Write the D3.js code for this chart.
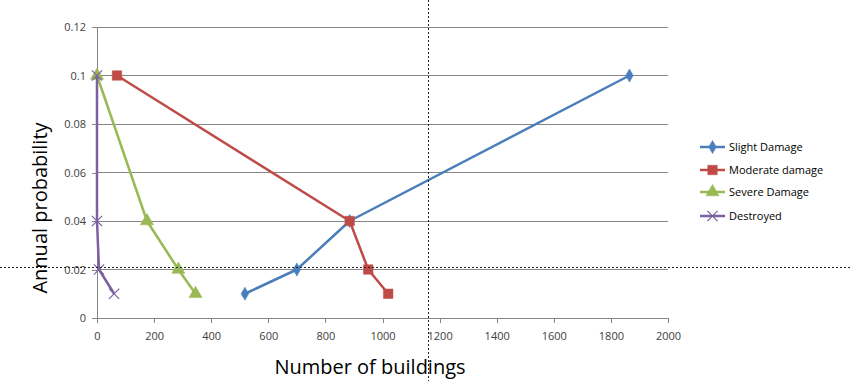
<!DOCTYPE html>
<html><head><meta charset="utf-8">
<script src="https://cdn.jsdelivr.net/npm/d3@7"></script>
<style>body{margin:0;background:#fff}svg{display:block}text{font-family:"Open Sans","Liberation Sans",sans-serif}</style>
</head><body>
<script>
const seriesNames = ["Slight Damage","Moderate damage","Severe Damage","Destroyed"];
const slightX = [518,700,885,1865];
const slightY = [0.01,0.02,0.04,0.1];
const moderateX = [1020,950,885,70];
const moderateY = [0.01,0.02,0.04,0.1];
const severeX = [345,285,175,0];
const severeY = [0.01,0.02,0.04,0.1];
const destroyedX = [60,7,0,0];
const destroyedY = [0.01,0.02,0.04,0.1];
const xTicks = [0,200,400,600,800,1000,1200,1400,1600,1800,2000];
const yTicks = [0,0.02,0.04,0.06,0.08,0.1,0.12];
const colors = ["#4a7ebb","#be4b48","#98b954","#7d60a0"];
const markers = ["diamond","square","triangle","cross"];

const W=850,H=381;
const svg=d3.select("body").append("svg").attr("width",W).attr("height",H);
const x=d3.scaleLinear().domain([0,2000]).range([97,668]);
const y=d3.scaleLinear().domain([0,0.12]).range([318,27]);

// gridlines
svg.append("g").selectAll("line").data(yTicks.filter(d=>d>0)).join("line")
  .attr("x1",x(0)).attr("x2",x(2000)).attr("y1",d=>y(d)).attr("y2",d=>y(d))
  .attr("stroke","#868686").attr("stroke-width",1).attr("shape-rendering","crispEdges");

const xAxis=svg.append("g").attr("transform",`translate(0,${y(0)})`)
  .call(d3.axisBottom(x).tickValues(xTicks).tickSize(5).tickPadding(9).tickFormat(d3.format("d")));
const yAxis=svg.append("g").attr("transform",`translate(${x(0)},0)`)
  .call(d3.axisLeft(y).tickValues(yTicks).tickSize(5).tickPadding(6).tickFormat(d=>d===0?"0":String(+d.toFixed(2))));
[xAxis,yAxis].forEach(a=>{
  a.selectAll("path,line").attr("stroke","#868686").attr("shape-rendering","crispEdges");
  a.selectAll("text").attr("fill","#404040").style("font-size","11px");
});
xAxis.select(".domain").attr("d",`M${x(0)},0H${x(2000)}`);
yAxis.select(".domain").attr("d",`M0,${y(0.12)}V${y(0)}`);

const data=[[slightX,slightY],[moderateX,moderateY],[severeX,severeY],[destroyedX,destroyedY]]
  .map(([xs,ys])=>xs.map((v,i)=>({x:v,y:ys[i]})));

const line=d3.line().x(d=>x(d.x)).y(d=>y(d.y));
const symType={diamond:d3.symbolDiamond,square:d3.symbolSquare,triangle:d3.symbolTriangle,cross:d3.symbolX};
const symSize={diamond:50,square:90,triangle:75,cross:70};
function drawMarker(g,type,color){
  const p=g.append("path").attr("d",d3.symbol().type(symType[type]).size(symSize[type])());
  if(type==="cross") p.attr("fill","none").attr("stroke",color).attr("stroke-width",1.2);
  else p.attr("fill",color).attr("stroke",color).attr("stroke-width",0.5);
}
data.forEach((pts,i)=>{
  const g=svg.append("g");
  g.append("path").datum(pts).attr("d",line).attr("fill","none").attr("stroke",colors[i]).attr("stroke-width",2.5).attr("stroke-linejoin","round");
  pts.forEach(p=>{
    const m=g.append("g").attr("transform",`translate(${x(p.x)},${y(p.y)})`);
    drawMarker(m,markers[i],colors[i]);
  });
});

// axis titles
svg.append("text").attr("x",370).attr("y",374).attr("text-anchor","middle").style("font-size","20px").attr("fill","#000").text("Number of buildings");
svg.append("text").attr("transform","translate(47,208) rotate(-90)").attr("text-anchor","middle").style("font-size","20px").attr("fill","#000").text("Annual probability");

// legend
const leg=svg.append("g");
const legY=[147,170,192,216];
seriesNames.forEach((n,i)=>{
  const g=leg.append("g").attr("transform",`translate(700,${legY[i]})`);
  g.append("line").attr("x1",0).attr("x2",25).attr("y1",0).attr("y2",0).attr("stroke",colors[i]).attr("stroke-width",2.5);
  const m=g.append("g").attr("transform","translate(12.5,0)");
  drawMarker(m,markers[i],colors[i]);
  g.append("text").attr("x",29).attr("y",4).style("font-size","11px").attr("fill","#000").text(n);
});

// dotted crosshair
svg.append("line").attr("x1",428.5).attr("x2",428.5).attr("y1",0).attr("y2",H).attr("stroke","#222").attr("stroke-width",1).attr("stroke-dasharray","2,2");
svg.append("line").attr("x1",0).attr("x2",W).attr("y1",267.5).attr("y2",267.5).attr("stroke","#222").attr("stroke-width",1).attr("stroke-dasharray","2,2");
</script>
</body></html>
